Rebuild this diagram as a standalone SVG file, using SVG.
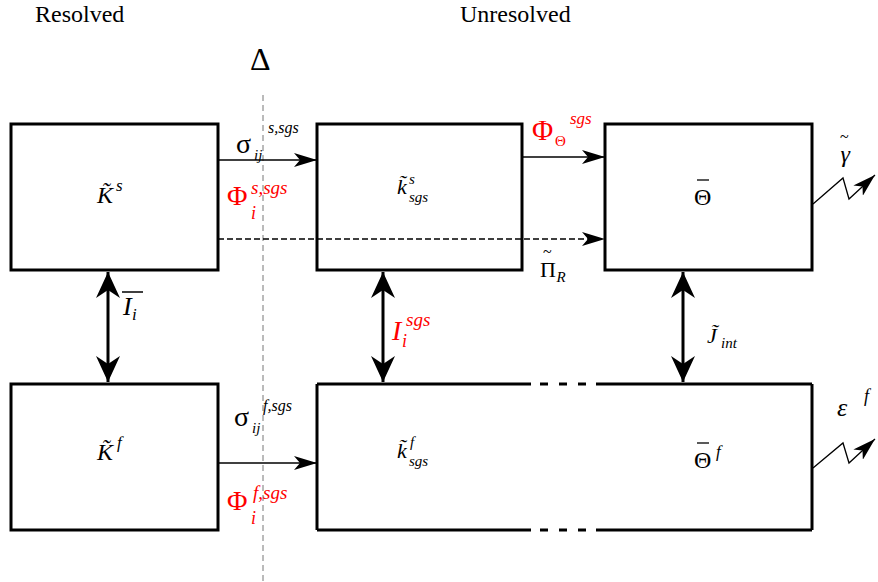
<svg xmlns="http://www.w3.org/2000/svg" width="878" height="582" viewBox="0 0 878 582">
<style>
  .box{fill:#fff;stroke:#000;stroke-width:3}
  .t{fill:#000}
  .i{font-style:italic}
  .red{fill:#ff0000}
  .ln{stroke:#000;stroke-width:1.3;fill:none}
  .dl{stroke:#000;stroke-width:3;fill:none}
</style>
<defs>
  <marker id="ah" markerUnits="userSpaceOnUse" markerWidth="24" markerHeight="14" refX="23" refY="7" orient="auto">
    <path d="M0,0 L23,7 L0,14 L6,7 z" fill="#000"/>
  </marker>
  <marker id="dh" markerUnits="userSpaceOnUse" markerWidth="26" markerHeight="24" refX="26" refY="12" orient="auto-start-reverse">
    <path d="M0,0 L26,12 L0,24 L8,12 z" fill="#000"/>
  </marker>
</defs>
<g font-family="Liberation Serif, Times New Roman, serif">
<text class="t" x="35" y="22" font-size="24">Resolved</text>
<text class="t" x="460" y="22" font-size="24">Unresolved</text>
<text class="t" x="250" y="70" font-size="32">Δ</text>

<line x1="263" y1="95" x2="263" y2="582" stroke="#777" stroke-width="1" stroke-dasharray="6,4"/>

<g id="Ks">
  <rect class="box" x="11" y="124" width="207" height="146"/>
  <text class="t i" x="97" y="203" font-size="24">K̃</text>
  <text class="t i" x="116" y="191" font-size="17">s</text>
</g>
<g id="ks">
  <rect class="box" x="317" y="124" width="205" height="146"/>
  <text class="t i" x="397" y="194" font-size="22">k̃</text>
  <text class="t i" x="409" y="184" font-size="15">s</text>
  <text class="t i" x="409" y="202" font-size="15">sgs</text>
</g>
<g id="Theta">
  <rect class="box" x="605" y="124" width="207" height="146"/>
  <text class="t" x="694" y="205" font-size="24">Θ</text>
  <line x1="697" y1="180" x2="709" y2="180" stroke="#000" stroke-width="1.3"/>
</g>
<g id="Kf">
  <rect class="box" x="11" y="384" width="207" height="146"/>
  <text class="t i" x="97" y="460" font-size="24">K̃</text>
  <text class="t i" x="117" y="448" font-size="17">f</text>
</g>
<g id="kf">
  <path d="M317,384 V530 M812,384 V530 M317,384 H531 M596,384 H812 M317,530 H531 M596,530 H812" class="dl"/>
  <path d="M540,384 H548 M559,384 H567 M578,384 H586 M540,530 H548 M559,530 H567 M578,530 H586" class="dl"/>
  <text class="t i" x="397" y="458" font-size="22">k̃</text>
  <text class="t i" x="410" y="447" font-size="15">f</text>
  <text class="t i" x="409" y="466" font-size="15">sgs</text>
  <text class="t" x="694" y="468" font-size="24">Θ</text>
  <line x1="697" y1="443" x2="709" y2="443" stroke="#000" stroke-width="1.3"/>
  <text class="t i" x="716" y="457" font-size="17">f</text>
</g>

<g id="connectors">
  <line class="ln" x1="218" y1="160" x2="317" y2="160" marker-end="url(#ah)"/>
  <line class="ln" x1="522" y1="157" x2="605" y2="157" marker-end="url(#ah)"/>
  <line class="ln" x1="218" y1="239" x2="605" y2="239" stroke-dasharray="6,3" marker-end="url(#ah)"/>
  <line class="ln" x1="218" y1="463" x2="317" y2="463" marker-end="url(#ah)"/>
  <line class="dl" x1="108" y1="272" x2="108" y2="382" marker-start="url(#dh)" marker-end="url(#dh)"/>
  <line class="dl" x1="383" y1="272" x2="383" y2="382" marker-start="url(#dh)" marker-end="url(#dh)"/>
  <line class="dl" x1="683" y1="272" x2="683" y2="382" marker-start="url(#dh)" marker-end="url(#dh)"/>
  <path class="ln" d="M813,204 L843,178 L849,199 L875,175" marker-end="url(#ah)"/>
  <path class="ln" d="M813,468 L843,443 L849,463 L875,439" marker-end="url(#ah)"/>
</g>

<g id="labels">
  <text class="t" x="236" y="153" font-size="28">σ</text>
  <text class="t i" x="254" y="160" font-size="15">ij</text>
  <text class="t i" x="268" y="133" font-size="16">s,sgs</text>

  <text class="t red" x="227" y="205" font-size="28">Φ</text>
  <text class="t i red" x="251" y="219" font-size="18">i</text>
  <text class="t i red" x="251" y="194" font-size="19">s,sgs</text>

  <text class="t red" x="532" y="140" font-size="29">Φ</text>
  <text class="t red" x="555" y="146" font-size="15">Θ</text>
  <text class="t i red" x="570" y="124" font-size="17">sgs</text>

  <text class="t" x="540" y="277" font-size="22">Π<tspan dx="-13" dy="-20" font-size="16">~</tspan><tspan class="i" dx="5" dy="25" font-size="15">R</tspan></text>

  <text class="t i" x="123" y="315" font-size="26">I</text>
  <line x1="122" y1="292" x2="143" y2="292" stroke="#000" stroke-width="1.5"/>
  <text class="t i" x="132" y="320" font-size="17">i</text>

  <text class="t i red" x="392" y="340" font-size="28">I</text>
  <text class="t i red" x="402" y="347" font-size="18">i</text>
  <text class="t i red" x="406" y="326" font-size="19">sgs</text>

  <text class="t i" x="707" y="343" font-size="22">J̃</text>
  <text class="t i" x="721" y="348" font-size="15">int</text>

  <text class="t i" x="837" y="416" font-size="26">ε</text>
  <text class="t i" x="864" y="402" font-size="18">f</text>
  <text class="t i" x="840" y="162" font-size="24">γ<tspan dx="-10" dy="-20" font-size="16" font-style="normal">~</tspan></text>

  <text class="t" x="234" y="426" font-size="28">σ</text>
  <text class="t i" x="252" y="433" font-size="15">ij</text>
  <text class="t i" x="263" y="411" font-size="16">f,sgs</text>

  <text class="t red" x="227" y="510" font-size="28">Φ</text>
  <text class="t i red" x="251" y="524" font-size="18">i</text>
  <text class="t i red" x="253" y="499" font-size="19">f,sgs</text>
</g>
</g>
</svg>
